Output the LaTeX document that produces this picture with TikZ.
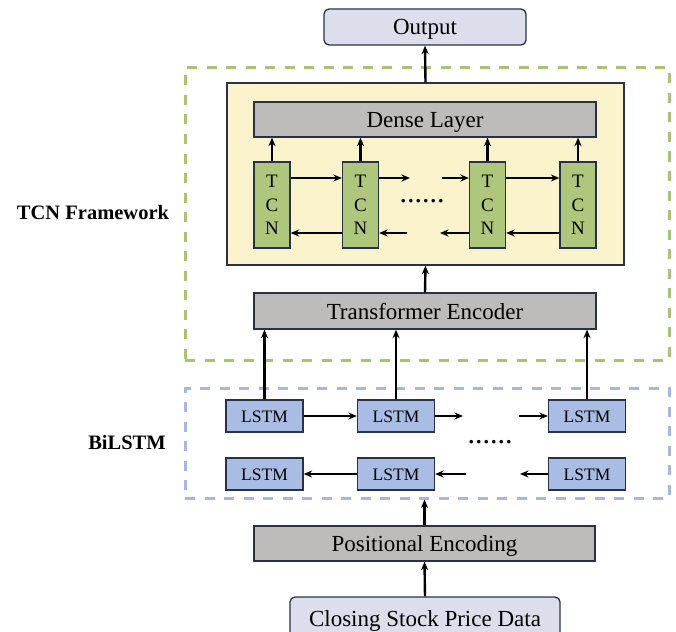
\documentclass[tikz,border=0pt]{standalone}
\usepackage{fontspec}
\setmainfont{Liberation Serif}
\usetikzlibrary{arrows.meta,positioning}

\definecolor{bord}{HTML}{27324A}
\definecolor{lavande}{HTML}{DCDFEB}
\definecolor{gris}{HTML}{BDBCBA}
\definecolor{vertc}{HTML}{AEC77C}
\definecolor{jaune}{HTML}{FAF3CC}
\definecolor{bleu}{HTML}{A9BDE4}
\definecolor{vertp}{HTML}{A5C572}
\definecolor{bleup}{HTML}{A3B8E4}

\tikzset{
	boite/.style={draw=bord,line width=1.3pt,inner sep=0pt,font=\fontsize{23}{26}\selectfont,text height=16pt,text depth=0pt},
	arrondi/.style={boite,rounded corners=5pt,fill=lavande},
	couche/.style={boite,fill=gris},
	tcn/.style={boite,fill=vertc,minimum width=36pt,minimum height=86pt,align=center,text height=,text depth=,font=\fontsize{19}{23.5}\selectfont},
	lstm/.style={boite,fill=bleu,minimum width=77pt,minimum height=32pt,text height=13pt,font=\fontsize{17.5}{20}\selectfont},
	cadre/.style={line width=3pt,dash pattern=on 10pt off 9.5pt,inner sep=0pt},
	fl/.style={-{Stealth[length=8.5pt,width=7pt]},line width=2.4pt,black},
	titre/.style={font=\bfseries\fontsize{20.5}{24}\selectfont},
	points/.style={font=\fontsize{30}{30}\selectfont,inner sep=0pt}
}

\begin{document}
\begin{tikzpicture}[x=1pt,y=-1pt]
	\useasboundingbox (0,0) rectangle (676,631);

	% cadres pointilles
	\node [cadre,draw=vertp,minimum width=484pt,minimum height=292pt] (cadretcn) at (427,214) {};
	\node [cadre,draw=bleup,minimum width=484pt,minimum height=110pt] (cadrelstm) at (427,443) {};
	\node [titre] (ltcn) at (93,212) {TCN Framework};
	\node [titre] (llstm) at (127,442) {BiLSTM};

	% sortie
	\node [arrondi,minimum width=202pt,minimum height=36pt] (out) at (425,27) {Output};

	% bloc TCN
	\node [boite,fill=jaune,minimum width=397pt,minimum height=182pt] (tcnbloc) at (425.5,174) {};
	\node [couche,minimum width=342pt,minimum height=35pt] (dense) at (425,119.5) {Dense Layer};
	\node [tcn] (t1) at (272,205) {T\\C\\N};
	\node [tcn] (t2) at (360.5,205) {T\\C\\N};
	\node [tcn] (t3) at (487.5,205) {T\\C\\N};
	\node [tcn] (t4) at (578,205) {T\\C\\N};
	\node [points] (ptcn) at (422,201) {......};

	\coordinate (ta) at (410,178);
	\coordinate (tb) at (442,178);
	\coordinate (tc) at (407,233);
	\coordinate (td) at (440,233);

	\foreach \i in {1,2,3,4}
		\draw [fl] (t\i.north) -- (t\i.north |- dense.south);

	\draw [fl] ([yshift=27pt]t1.east) -- ([yshift=27pt]t2.west);
	\draw [fl] ([yshift=27pt]t2.east) -- (ta);
	\draw [fl] (tb) -- ([yshift=27pt]t3.west);
	\draw [fl] ([yshift=27pt]t3.east) -- ([yshift=27pt]t4.west);

	\draw [fl] ([yshift=-28pt]t2.west) -- ([yshift=-28pt]t1.east);
	\draw [fl] (tc) -- ([yshift=-28pt]t2.east);
	\draw [fl] ([yshift=-28pt]t3.west) -- (td);
	\draw [fl] ([yshift=-28pt]t4.west) -- ([yshift=-28pt]t3.east);

	\draw [fl] (tcnbloc.north) -- (out.south);

	% encodeur
	\node [couche,minimum width=342pt,minimum height=36pt] (trans) at (425,311) {Transformer Encoder};
	\draw [fl] (trans.north) -- (tcnbloc.south);

	% BiLSTM
	\node [lstm] (h1) at (264.5,416) {LSTM};
	\node [lstm] (h2) at (396,416) {LSTM};
	\node [lstm] (h3) at (587,416) {LSTM};
	\node [lstm] (b1) at (264.5,474) {LSTM};
	\node [lstm] (b2) at (396,474) {LSTM};
	\node [lstm] (b3) at (587,474) {LSTM};
	\node [points] (plstm) at (490,442) {......};

	\coordinate (ha) at (463,416);
	\coordinate (hb) at (519,416);
	\coordinate (ba) at (466,474);
	\coordinate (bb) at (520,474);

	\foreach \i in {1,2,3}
		\draw [fl] (h\i.north) -- (h\i.north |- trans.south);

	\draw [fl] (h1) -- (h2);
	\draw [fl] (h2) -- (ha);
	\draw [fl] (hb) -- (h3);
	\draw [fl] (b2) -- (b1);
	\draw [fl] (ba) -- (b2);
	\draw [fl] (b3) -- (bb);

	% entree
	\node [couche,minimum width=341pt,minimum height=35pt] (pe) at (424.5,543.5) {Positional Encoding};
	\node [arrondi,minimum width=270pt,minimum height=42pt] (data) at (425,618) {Closing Stock Price Data};

	\draw [fl] (pe.north) -- (pe.north |- cadrelstm.south);
	\draw [fl] (data.north) -- (pe.south);
\end{tikzpicture}
\end{document}
